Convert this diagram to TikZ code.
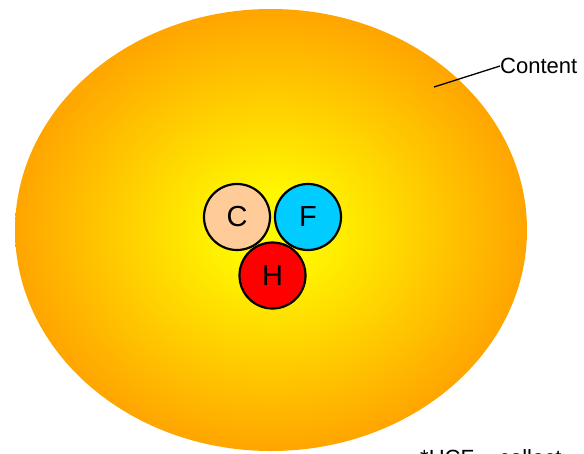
\documentclass[tikz,border=0pt]{standalone}
\usepackage{fontspec}
\setmainfont{Liberation Sans}
\usetikzlibrary{positioning}

\definecolor{cloudyellow}{RGB}{255,248,0}
\definecolor{cloudorange}{RGB}{255,153,0}
\definecolor{carbonfill}{RGB}{255,204,153}
\definecolor{fluorfill}{RGB}{0,204,255}
\definecolor{hydrofill}{RGB}{255,0,0}

\pgfdeclareradialshading{glow}{\pgfpoint{0bp}{0bp}}{%
  color(0bp)=(cloudyellow); color(4bp)=(cloudyellow);
  color(28bp)=(cloudorange); color(50bp)=(cloudorange)}

\begin{document}
\begin{tikzpicture}[x=1pt,y=-1pt,
  atom/.style={circle,draw,line width=2.2pt,minimum size=66pt,inner sep=0pt,
    font=\fontsize{29}{29}\selectfont},
  tag/.style={inner sep=0pt,font=\fontsize{22}{22}\selectfont}]

\useasboundingbox (0,0) rectangle (584,453);

% Cloud
\shade[shading=glow] (271,230) ellipse (256pt and 221pt);

% Atoms
\node[atom,fill=carbonfill] (c) at (237,217) {C};
\node[atom,fill=fluorfill] (f) at (308,217) {F};
\node[atom,fill=hydrofill] (h) at (272.5,275.5) {H};

% Label
\coordinate (tip) at (434,87);
\node[tag,anchor=west] (content) at (500,66) {Content};
\draw[line width=1.3pt] (tip) -- (content.west);

% Note, cut by the page edge
\node[tag,anchor=north west] (note) at (420,449) {*HCF = collect};

\end{tikzpicture}
\end{document}
